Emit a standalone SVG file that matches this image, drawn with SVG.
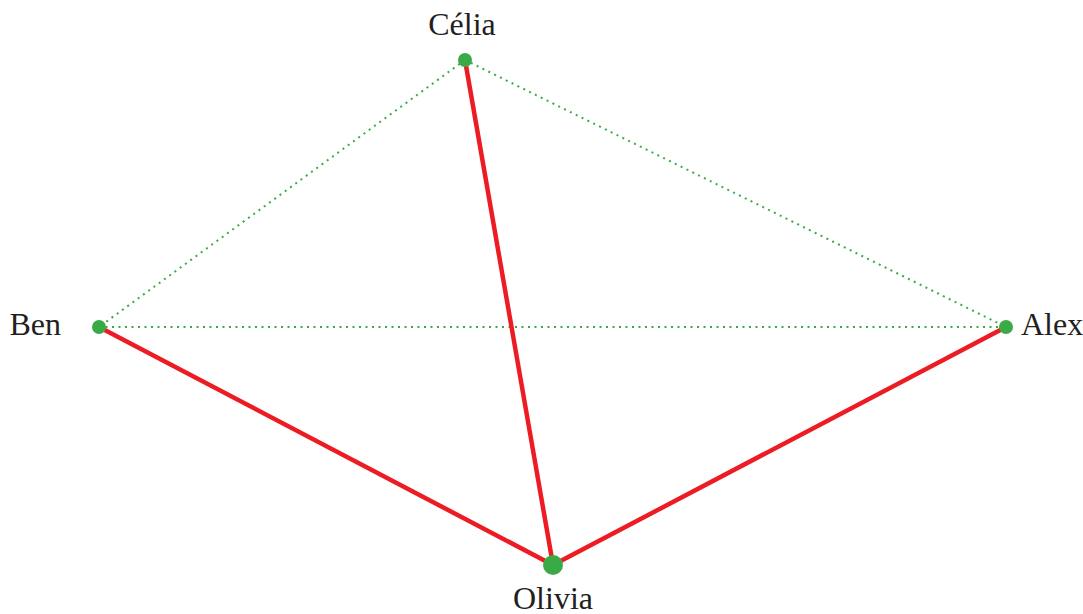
<svg xmlns="http://www.w3.org/2000/svg" width="1083" height="614" viewBox="0 0 1083 614">
<style>
.lbl{font-family:"Liberation Serif","Times New Roman",serif;font-size:32px;fill:#231f20}
.strong{stroke:#ed1c24;stroke-width:4.5;fill:none}
.weak{stroke:#3aaa47;stroke-width:2;stroke-dasharray:2 4.5;fill:none}
.dot{fill:#3aaa47}
</style>
<rect width="1083" height="614" fill="#fff"/>
<g id="connectors">
<line class="weak" x1="465" y1="60" x2="99" y2="327"/>
<line class="weak" x1="465" y1="60" x2="1006" y2="327"/>
<line class="weak" x1="99" y1="327" x2="1006" y2="327"/>
<line class="strong" x1="465" y1="60" x2="553" y2="565"/>
<line class="strong" x1="99" y1="327" x2="553" y2="565"/>
<line class="strong" x1="1006" y1="327" x2="553" y2="565"/>
</g>
<g id="celia"><circle class="dot" cx="465" cy="60" r="7"/><text class="lbl" x="462" y="35" text-anchor="middle">Célia</text></g>
<g id="ben"><circle class="dot" cx="99" cy="327" r="7"/><text class="lbl" x="61" y="335" text-anchor="end">Ben</text></g>
<g id="alex"><circle class="dot" cx="1006" cy="327" r="7"/><text class="lbl" x="1021" y="335">Alex</text></g>
<g id="olivia"><circle class="dot" cx="553" cy="565" r="10"/><text class="lbl" x="553" y="609" text-anchor="middle">Olivia</text></g>
</svg>
